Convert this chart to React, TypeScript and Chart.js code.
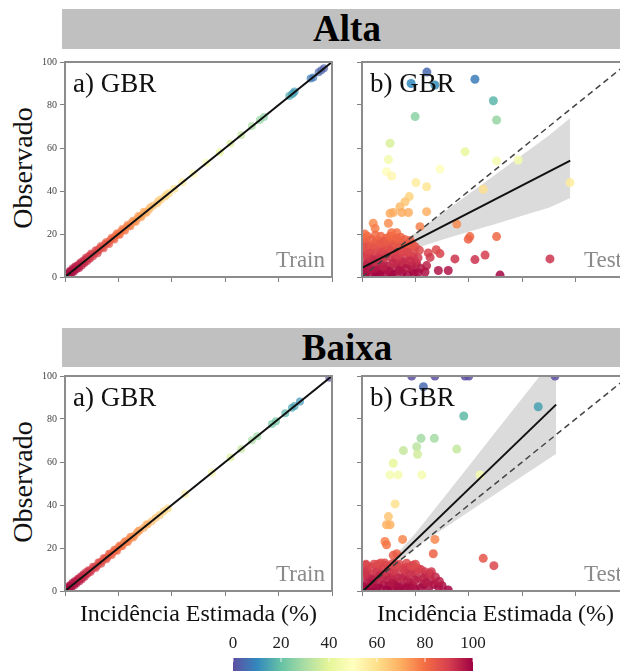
import React, { useEffect, useRef } from 'react';
import { Chart, registerables } from 'chart.js';

Chart.register(...registerables);

const SERIF = '"Liberation Serif", "Times New Roman", Times, serif';

// ---------- DATA ----------
const rowTitles = ['Alta', 'Baixa'];
const panelTitles = ['a) GBR', 'b) GBR'];
const panelCorners = ['Train', 'Test'];
const yAxisTitle = 'Observado';
const xAxisTitle = 'Incidência Estimada (%)';
const axisTicks = [0, 20, 40, 60, 80, 100];
const colorbarTicks = [0, 20, 40, 60, 80, 100];

// Alta - train [predicted, observed]
const altaTrainPoints: [number, number][] = [
  [0.3, 0.2], [0.5, 0.8], [0.8, 1.5], [1, 1.3], [1.2, 0.6], [1.5, 1.2], [1.8, 2.8], [2, 2.4], [2.2, 1.5],
  [2.5, 2.2], [2.8, 3.9], [3, 3.3], [3.3, 2.5], [3.5, 3.2], [3.8, 4.9], [4, 4.4], [4.3, 3.6], [4.7, 5.5],
  [5, 4.8], [5.3, 4.2], [5.5, 5.9], [5.8, 6.8], [6, 6.2], [6.3, 5.4], [6.8, 7.6], [7, 6.8], [7.3, 6.5],
  [7.5, 7.9], [7.8, 8.9], [8, 8.3], [8.3, 7.4], [8.8, 9.6], [9, 8.8], [9.3, 8.5], [9.5, 9.9], [9.8, 10.9],
  [10, 10.3], [10.5, 9.6], [11, 10.8], [11.5, 12.4], [12, 12.3], [12.2, 11.1], [12.5, 12.2], [13, 13.4],
  [13.5, 14.4], [14, 13.8], [14.5, 13.4], [15, 15.3], [15.5, 16.3], [16, 15.8], [16.5, 15.4], [17, 17.2],
  [17.5, 18.3], [18, 17.9], [18.5, 17.4], [19, 19.3], [19.5, 20.4], [20, 19.8], [20.5, 19.6], [21, 21.2],
  [21.5, 22.3], [22, 21.9], [22.5, 21.6], [23, 23.3], [23.5, 24.3], [24, 23.8], [24.5, 23.6], [25, 25.2],
  [25.5, 26.2], [26, 25.9], [26.5, 25.7], [27, 27.1], [27.5, 28.4], [28, 28.2], [28.5, 27.8], [29, 28.9],
  [29.5, 30.3], [30, 30.2], [30.5, 29.9], [31.5, 31.4], [32, 32.5], [33, 33.2], [34.5, 34.3], [35, 35.4],
  [36, 36.2], [37.5, 37.4], [38, 38.3], [39, 39.1], [41, 41], [44, 44.1], [48, 48], [53, 53.1], [58, 58],
  [62, 62.1], [66, 66], [70, 70.2], [73, 73], [74.5, 74.4], [84, 84.2], [85, 85], [85.5, 85.6], [86, 86.3],
  [92, 92.3], [93, 92.8], [95, 95.2], [96, 96.2], [97, 97.1],
];

// Baixa - train [predicted, observed]
const baixaTrainPoints: [number, number][] = [
  [0.3, 0.4], [0.5, 0.6], [0.8, 1.6], [1, 1.2], [1.3, 0.5], [1.5, 1.4], [1.8, 2.7], [2, 2.3], [2.3, 1.6],
  [2.5, 2.4], [2.8, 3.8], [3, 3.2], [3.4, 2.6], [3.7, 4.7], [4, 4.1], [4.3, 3.5], [4.5, 4.6], [4.8, 5.7],
  [5, 5.3], [5.4, 4.5], [5.8, 6.6], [6, 5.9], [6.3, 5.5], [6.5, 6.7], [6.8, 7.7], [7, 7.2], [7.4, 6.6],
  [7.8, 8.7], [8, 7.8], [8.5, 8.1], [8.8, 9.7], [9, 9.2], [9.5, 8.8], [10, 9.9], [10.5, 11.3], [11, 11.2],
  [11.5, 10.7], [12, 11.8], [12.5, 13.3], [13, 13.2], [13.5, 12.7], [14, 13.9], [14.5, 15.2], [15, 15.2],
  [15.5, 14.8], [16, 15.8], [16.5, 17.3], [17, 17.2], [17.5, 16.8], [18, 18.1], [18.5, 19.2], [19, 18.9],
  [19.5, 18.7], [20, 20.2], [20.5, 21.2], [21, 20.8], [21.5, 20.9], [22, 22.2], [22.5, 23.1], [23, 22.9],
  [23.5, 22.8], [24, 24.1], [24.5, 25.1], [25, 25.2], [25.5, 24.9], [26, 25.8], [27, 27.1], [27.5, 27.9],
  [28, 28.2], [29.5, 29.4], [30.5, 30.9], [31, 31.1], [32.5, 32.4], [34, 34.1], [35.5, 35.4], [37, 37.1],
  [38.5, 38.4], [45, 45.1], [55, 55], [62, 62.1], [66, 66], [70, 70.1], [72, 72], [77.5, 77.7], [79, 79],
  [82.5, 82.7], [85, 85.2], [86, 86], [88, 88.1], [99, 99.2],
];

// Alta - test [predicted, observed]
const altaTestPoints: [number, number][] = [
  [42.3, 92], [18.4, 90], [24.3, 95.3], [27.3, 89.3], [49.2, 82], [19.9, 74.6], [50.4, 73],
  [10.5, 62.2], [9.9, 54.6], [9.2, 49], [11.1, 47], [38.6, 58.3], [29.2, 50.2], [50.4, 54], [58.5, 54.4],
  [77.9, 43.9], [45.4, 40.8], [20.2, 43.9], [24.2, 42], [17.7, 37.4], [16.1, 35], [14.2, 32.7],
  [11.7, 30], [14.9, 30], [17.4, 30], [10.5, 29.6], [24.2, 30.4], [9.9, 25], [4.2, 25], [4.9, 22.6],
  [11.1, 20.6], [13, 20.6], [21.7, 23.4], [35.5, 24.6], [40.4, 18.8], [39.8, 17.6], [50.4, 18.8],
  [70.4, 8.4], [46.1, 10.2], [42.3, 8.1], [34.8, 8.4], [29.2, 10.9], [27.8, 12.7], [24.8, 11.2],
  [25.5, 9.1], [24.2, 5.3], [28.6, 3], [32.3, 3], [51.7, 0.9], [23.6, 2.3], [20.5, 6.3], [19.2, 9.4],
  [1, 1], [2, 3], [3, 1.5], [1.5, 5], [4, 4], [5, 2], [6, 6], [2.5, 8], [4, 10], [7, 3], [8, 7], [9, 1],
  [10, 5], [11, 9], [6, 12], [3, 14], [5, 16], [8, 15], [10, 13], [12, 11], [13, 4], [14, 8], [15, 2],
  [16, 12], [17, 6], [18, 10], [19, 3], [20, 7], [12, 17], [9, 18], [14, 16], [7, 19], [2, 19], [1, 12],
  [0.5, 9], [3.5, 6.5], [6.5, 9.5], [9.5, 11], [11.5, 14.5], [13.5, 13], [15.5, 15], [17.5, 14],
  [19.5, 12], [21, 9], [22, 4], [20, 14], [8.5, 3.5], [11, 1.5], [13, 6.5], [16, 9], [4.5, 13],
  [1, 16.5], [10, 17], [14.5, 18.5], [18, 17], [5.5, 0.5], [15, 5.5], [17, 1], [21.5, 12.5], [3, 11.5],
  [7.5, 13.5], [12.5, 8.5], [18.5, 5],
  [0.5, 3], [2, 6], [3, 9], [1.5, 10.5], [4.5, 8], [6, 3.5], [7, 10.5], [8, 12], [9.5, 14.5], [11, 12.5],
  [12.5, 15.5], [14, 11], [15.5, 7], [16.5, 4], [18, 7.5], [2.5, 12.5], [4, 15], [6, 17], [5, 19.5],
  [8.5, 16.5], [10.5, 19], [13, 18], [16, 17.5], [17, 15.5], [19, 15], [2, 15], [3.5, 17.5], [7, 15.5],
  [0.5, 14], [0.5, 18], [1, 20], [6.5, 1], [10, 3], [12, 1], [14, 3], [8, 5], [3, 3.5], [5, 7.5], [7, 8.5],
  [9, 9.5], [11.5, 6.5], [13.5, 10], [15, 12.5], [19.5, 1.5], [21, 2], [17, 11.5],
];

// Baixa - test [predicted, observed]
const baixaTestPoints: [number, number][] = [
  [18.6, 100], [27.3, 100], [38.6, 100], [40, 100], [72.3, 100], [23, 95], [66, 85.7], [38.1, 81.4],
  [22.1, 71], [27.1, 71], [20.5, 67.1], [20.8, 63.6], [15.5, 65.3], [35.5, 66], [11.7, 59.4],
  [10.5, 54], [13.6, 54], [22.4, 54], [44.2, 54], [12.4, 40.5], [9.9, 34.6], [9.2, 30.8], [10.5, 30.8],
  [8.6, 23], [9.2, 21.5], [15.2, 24], [27.3, 24], [26.7, 17.3], [13, 17.3], [11.7, 16.6], [16.7, 12.9],
  [45.4, 15.2], [49.4, 11.8], [1.5, 12.4],
  [1, 1], [2, 4], [3, 8], [1.5, 12], [4, 2], [5, 6], [6, 10], [7, 13], [8, 3], [9, 7], [10, 11], [11, 1],
  [12, 5], [13, 9], [14, 12.5], [15, 2.5], [16, 7], [17, 11], [18, 4], [19, 8.5], [20, 1], [21, 6],
  [22, 10], [23, 3], [24, 7.5], [25, 1.5], [26, 5], [27, 3], [28.6, 2], [30, 2.5], [32.3, 0.5],
  [4.5, 12.5], [8.5, 13], [11.5, 12.8], [2.5, 6], [6.5, 4.5], [10.5, 8.5], [13.5, 6], [17.5, 2],
  [20.5, 9.5], [23.5, 9], [0.5, 7], [3.5, 0.5], [7.5, 8], [15.5, 10.5], [19, 12], [12.5, 2.5],
  [9.5, 5], [5.5, 1.5], [25.5, 8],
  [0.5, 2], [2, 9.5], [3.5, 11], [4, 5], [5.5, 9], [6, 12.5], [7, 1], [8, 10.5], [9, 12], [10, 2.5],
  [11, 6.5], [12, 9.5], [13, 12], [14, 1], [15, 6], [16, 9.5], [17, 5], [18, 8], [19, 2.5], [20, 5],
  [21, 10.5], [22, 1.5], [23, 6], [24, 4], [26, 9], [1, 8.5], [2.5, 1.5], [3.5, 3.5], [6.5, 7], [9.5, 0.5],
  [11.5, 3.5], [13.5, 2], [16.5, 1.5], [18.5, 11.5], [20, 12.5], [27.5, 6.5], [29, 4.5],
];

// Fitted lines
const trainFitX = [0, 100];
const trainFitY = [0, 100];
const identityX = [0, 100];
const identityY = [0, 100];
const altaFitX = [0, 78];
const altaFitY = [4.2, 54.1];
const baixaFitX = [0, 72.7];
const baixaFitY = [-0.5, 86.7];

// Confidence bands
const altaCiX = [0, 10, 20, 30, 40, 50, 60, 70, 78];
const altaCiLo = [1.6, 9.0, 13.4, 17.3, 21.0, 24.7, 28.5, 32.2, 36.7];
const altaCiHi = [6.8, 12.2, 20.6, 29.5, 38.6, 47.7, 56.7, 65.8, 74.0];
const baixaCiX = [0, 10, 20, 30, 40, 50, 60, 72.7];
const baixaCiLo = [-5.3, 9.9, 20.1, 28.5, 36.9, 45.1, 53.4, 63.8];
const baixaCiHi = [4.3, 13.1, 26.9, 42.5, 58.1, 73.9, 89.6, 109.6];

// ---------- STYLE HELPERS ----------
const SPECTRAL = ['#9e0142', '#d53e4f', '#f46d43', '#fdae61', '#fee08b', '#ffffbf', '#e6f598', '#abdda4', '#66c2a5', '#3288bd', '#5e4fa2'];

function hexRgb(h: string) {
  return [parseInt(h.slice(1, 3), 16), parseInt(h.slice(3, 5), 16), parseInt(h.slice(5, 7), 16)];
}
function spectral(v: number, alpha: number) {
  const t = Math.max(0, Math.min(1, v / 100)) * (SPECTRAL.length - 1);
  const i = Math.min(Math.floor(t), SPECTRAL.length - 2);
  const f = t - i;
  const a = hexRgb(SPECTRAL[i]);
  const b = hexRgb(SPECTRAL[i + 1]);
  const c = a.map((av, k) => Math.round(av + (b[k] - av) * f));
  return `rgba(${c[0]},${c[1]},${c[2]},${alpha})`;
}
const zip = (xs: number[], ys: number[]) => xs.map((x, i) => ({ x, y: ys[i] }));
const toPts = (arr: [number, number][]) => arr.map(([x, y]) => ({ x, y }));

const AREA_W = 267;
const AREA_H = 215;
const PAD_L = 45;
const PAD_T = 10;
const PAD_R = 10;
const PAD_B = 15;

const framePlugin = {
  id: 'frame',
  afterDatasetsDraw(chart: any, _args: any, opts: any) {
    const { ctx, chartArea: a } = chart;
    ctx.save();
    ctx.strokeStyle = '#8c8c8c';
    ctx.lineWidth = 2;
    ctx.strokeRect(a.left, a.top, a.right - a.left, a.bottom - a.top);
    ctx.fillStyle = '#111';
    ctx.font = `27px ${SERIF}`;
    ctx.textAlign = 'left';
    ctx.textBaseline = 'alphabetic';
    ctx.fillText(opts.title, a.left + 8, a.top + 30);
    ctx.fillStyle = '#8a8a8a';
    ctx.font = `23px ${SERIF}`;
    ctx.textAlign = 'right';
    ctx.fillText(opts.corner, a.right - 7, a.bottom - 10);
    ctx.restore();
  },
};

interface PanelSpec {
  yLabels: boolean;
  title: string;
  corner: string;
  points: { x: number; y: number }[];
  radius: number;
  alpha: number;
  fitX: number[];
  fitY: number[];
  identity: boolean;
  ciX?: number[];
  ciLo?: number[];
  ciHi?: number[];
}

function makePanel(canvas: HTMLCanvasElement, s: PanelSpec) {
  const datasets: any[] = [];
  if (s.ciX && s.ciLo && s.ciHi) {
    datasets.push({
      type: 'line', data: zip(s.ciX, s.ciLo), borderWidth: 0, pointRadius: 0, fill: false, order: 5,
    });
    datasets.push({
      type: 'line', data: zip(s.ciX, s.ciHi), borderWidth: 0, pointRadius: 0, fill: '-1',
      backgroundColor: 'rgba(200,200,200,0.65)', order: 5,
    });
  }
  datasets.push({
    type: 'scatter',
    data: s.points,
    pointRadius: s.radius,
    pointBorderWidth: 0,
    pointBackgroundColor: s.points.map((p) => spectral(p.y, s.alpha)),
    pointBorderColor: 'rgba(0,0,0,0)',
    clip: 0,
    order: 3,
  });
  if (s.identity) {
    datasets.push({
      type: 'line', data: zip(identityX, identityY), borderColor: '#444', borderWidth: 1.5,
      borderDash: [6, 4], pointRadius: 0, fill: false, order: 2,
    });
  }
  datasets.push({
    type: 'line', data: zip(s.fitX, s.fitY), borderColor: '#111', borderWidth: 2,
    pointRadius: 0, fill: false, order: 1,
  });

  const axisCommon = {
    type: 'linear',
    min: 0,
    max: 100,
    afterBuildTicks: (sc: any) => { sc.ticks = axisTicks.map((v) => ({ value: v })); },
    grid: { drawOnChartArea: false, drawTicks: true, tickLength: 5, color: '#808080', lineWidth: 1 },
    border: { display: true, color: '#8c8c8c', width: 2 },
  };

  return new Chart(canvas, {
    type: 'scatter',
    data: { datasets },
    options: {
      responsive: false,
      animation: false,
      layout: { padding: { top: PAD_T, right: PAD_R, left: 0, bottom: 0 } },
      plugins: {
        legend: { display: false },
        tooltip: { enabled: false },
        frame: { title: s.title, corner: s.corner },
      } as any,
      scales: {
        x: {
          ...axisCommon,
          afterFit: (sc: any) => { sc.height = PAD_B; },
          ticks: { callback: () => '' },
        },
        y: {
          ...axisCommon,
          afterFit: (sc: any) => { sc.width = PAD_L; },
          ticks: {
            callback: (v: any) => (s.yLabels ? String(v) : ''),
            font: { family: SERIF, size: 10 },
            color: '#444',
            padding: 3,
          },
        },
      } as any,
    },
    plugins: [framePlugin],
  } as any);
}

const colorbarPlugin = {
  id: 'cbar',
  beforeDatasetsDraw(chart: any) {
    const { ctx, chartArea: a } = chart;
    ctx.save();
    const g = ctx.createLinearGradient(a.left, 0, a.right, 0);
    for (let i = 0; i < SPECTRAL.length; i++) {
      g.addColorStop(i / (SPECTRAL.length - 1), SPECTRAL[SPECTRAL.length - 1 - i]);
    }
    ctx.fillStyle = g;
    ctx.fillRect(a.left, a.top, a.right - a.left, a.bottom - a.top);
    const xs = chart.scales.x;
    ctx.strokeStyle = 'rgba(255,255,255,0.8)';
    ctx.lineWidth = 1;
    colorbarTicks.forEach((v) => {
      const px = xs.getPixelForValue(v);
      ctx.beginPath();
      ctx.moveTo(px, a.top);
      ctx.lineTo(px, a.top + 4);
      ctx.stroke();
    });
    ctx.restore();
  },
};

function makeColorbar(canvas: HTMLCanvasElement) {
  return new Chart(canvas, {
    type: 'scatter',
    data: { datasets: [] },
    options: {
      responsive: false,
      animation: false,
      layout: { padding: { top: 0, right: 20, left: 20, bottom: 0 } },
      plugins: { legend: { display: false }, tooltip: { enabled: false } },
      scales: {
        x: {
          type: 'linear', position: 'top', min: 0, max: 100,
          afterBuildTicks: (sc: any) => { sc.ticks = colorbarTicks.map((v) => ({ value: v })); },
          afterFit: (sc: any) => { sc.height = 28; },
          ticks: { font: { family: SERIF, size: 17 }, color: '#222', padding: 4, maxRotation: 0 },
          grid: { display: false, drawTicks: false },
          border: { display: false },
        },
        y: { display: false, min: 0, max: 1 },
      } as any,
    },
    plugins: [colorbarPlugin],
  } as any);
}

function ChartCanvas(props: { left: number; top: number; width: number; height: number; make: (c: HTMLCanvasElement) => Chart }) {
  const ref = useRef<HTMLCanvasElement>(null);
  useEffect(() => {
    const chart = props.make(ref.current as HTMLCanvasElement);
    return () => chart.destroy();
  }, []);
  return (
    <canvas
      ref={ref}
      width={props.width}
      height={props.height}
      style={{ position: 'absolute', left: props.left, top: props.top, width: props.width, height: props.height }}
    />
  );
}

const COLS = [65, 362];
const ROWS = [62, 376];
const BARS = [{ top: 9, h: 40 }, { top: 328, h: 39 }];

const trainSets = [toPts(altaTrainPoints), toPts(baixaTrainPoints)];
const testSets = [toPts(altaTestPoints), toPts(baixaTestPoints)];
const fits = [
  { x: altaFitX, y: altaFitY, ciX: altaCiX, ciLo: altaCiLo, ciHi: altaCiHi },
  { x: baixaFitX, y: baixaFitY, ciX: baixaCiX, ciLo: baixaCiLo, ciHi: baixaCiHi },
];

export default function App() {
  const canvasW = PAD_L + AREA_W + PAD_R;
  const canvasH = PAD_T + AREA_H + PAD_B;
  return (
    <div style={{ position: 'fixed', left: 0, top: 0, width: 620, height: 671, overflow: 'hidden', background: '#fff' }}>
      {rowTitles.map((t, r) => (
        <div
          key={'bar' + r}
          style={{
            position: 'absolute', left: 62, top: BARS[r].top, width: 570, height: BARS[r].h,
            background: '#c0c0c0', color: '#000', fontFamily: SERIF, fontWeight: 'bold',
            fontSize: 37, lineHeight: BARS[r].h + 'px', textAlign: 'center',
          }}
        >
          {t}
        </div>
      ))}
      {ROWS.map((top, r) => (
        <div
          key={'yl' + r}
          style={{
            position: 'absolute', left: 23 - 100, top: top + AREA_H / 2 - 2 - 17, width: 200, height: 34,
            lineHeight: '34px', textAlign: 'center', fontFamily: SERIF, fontSize: 28, color: '#111',
            transform: 'rotate(-90deg)',
          }}
        >
          {yAxisTitle}
        </div>
      ))}
      {ROWS.map((top, r) => (
        <React.Fragment key={'row' + r}>
          <ChartCanvas
            left={COLS[0] - PAD_L}
            top={top - PAD_T}
            width={canvasW}
            height={canvasH}
            make={(c) => makePanel(c, {
              yLabels: true, title: panelTitles[0], corner: panelCorners[0],
              points: trainSets[r], radius: 4, alpha: 0.7, fitX: trainFitX, fitY: trainFitY, identity: false,
            })}
          />
          <ChartCanvas
            left={COLS[1] - PAD_L}
            top={top - PAD_T}
            width={canvasW}
            height={canvasH}
            make={(c) => makePanel(c, {
              yLabels: false, title: panelTitles[1], corner: panelCorners[1],
              points: testSets[r], radius: 4.5, alpha: 0.85, fitX: fits[r].x, fitY: fits[r].y, identity: true,
              ciX: fits[r].ciX, ciLo: fits[r].ciLo, ciHi: fits[r].ciHi,
            })}
          />
        </React.Fragment>
      ))}
      {COLS.map((left, c) => (
        <div
          key={'xl' + c}
          style={{
            position: 'absolute', left: left + AREA_W / 2 - 160, top: 598, width: 320, height: 30,
            lineHeight: '30px', textAlign: 'center', fontFamily: SERIF, fontSize: 24, color: '#111',
          }}
        >
          {xAxisTitle}
        </div>
      ))}
      <ChartCanvas left={213} top={630} width={280} height={60} make={makeColorbar} />
    </div>
  );
}
